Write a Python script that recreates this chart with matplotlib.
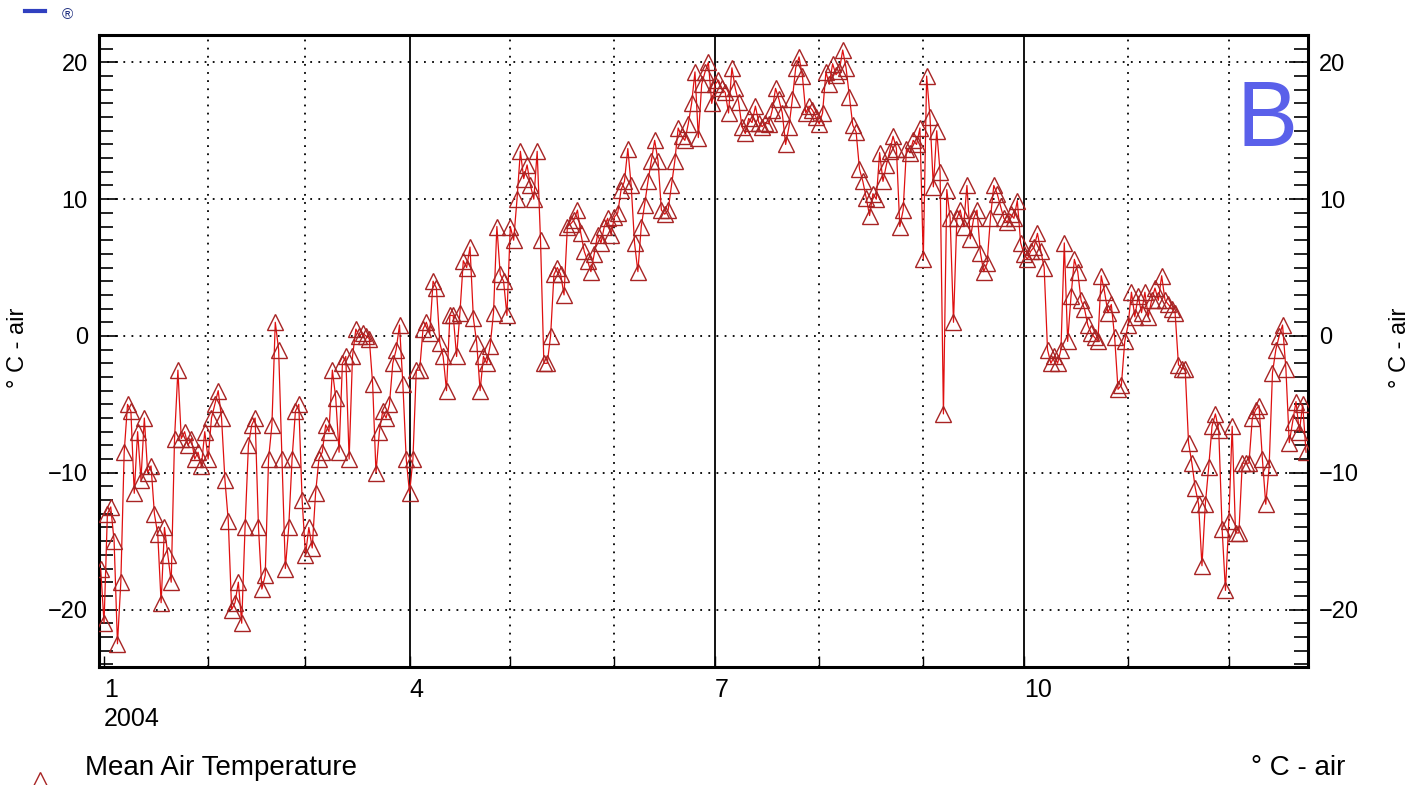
import matplotlib
matplotlib.use('Agg')
import matplotlib.pyplot as plt
from matplotlib.ticker import MultipleLocator
from matplotlib.lines import Line2D
import pandas as pd

plt.rcParams['font.family'] = ['Liberation Sans', 'DejaVu Sans']

# ---- data (daily mean air temperature, deg C) ----
start_date = '2003-12-31'
temp_dec03 = [-17]
temp_jan = [-21, -13, -12.5, -15, -22.5, -18, -8.5, -5, -5.5, -11.5, -7, -10.5, -6, -10, -9.5,
            -13, -14.5, -19.5, -14, -16, -18, -7.5, -2.5, -7.5, -7, -8, -7.5, -9, -8.5, -9.5, -7]
temp_feb = [-9, -6, -5, -4, -6, -10.5, -13.5, -20, -19.5, -18, -21, -14, -8, -6.5, -6,
            -14, -18.5, -17.5, -9, -6.5, 1, -1, -9, -17, -14, -9, -5.5, -5, -12]
temp_mar = [-16, -14, -15.5, -11.5, -9, -8.5, -6.5, -7, -2.5, -4.5, -8.5, -2, -1.5, -9, -1.5,
            0.5, 0, 0.2, 0, -0.2, -3.5, -10, -7, -5.5, -6, -5, -2, -1, 0.8, -3.5, -9]
temp_apr = [-11.5, -9, -2.5, -2.5, 0.5, 1, 0.2, 4, 3.5, -0.5, -1.5, -4, 1.5, 1.5, -1.5,
            1.7, 5.5, 5, 6.5, 1.3, -0.5, -4, -1.5, -2, -0.7, 1.7, 8, 4.5, 4, 1.5]
temp_may = [8, 7, 10, 13.5, 11.5, 12.5, 11, 10, 13.5, 7, -2, -2, 0, 4.5, 5, 4.5,
            3, 8, 8.2, 8.5, 9.2, 7.5, 6.2, 5.5, 4.7, 6, 7.4, 6.8, 8, 8.6, 7.4]
temp_jun = [8.7, 9, 10.7, 11.3, 13.7, 11, 6.8, 4.7, 8, 9.6, 11.3, 12.8, 14.3, 12.8, 9.2,
            8.9, 9.2, 11, 12.8, 15.2, 14.6, 14.3, 15.5, 17, 19.3, 14.5, 18.4, 19.3, 20, 17]
temp_jul = [18.4, 18.7, 18.1, 17.8, 16.3, 19.6, 18.1, 17.1, 15.3, 14.8, 15.9, 15.6, 16.8, 15.6, 15.3,
            15.6, 15.5, 16.5, 18.1, 17.3, 16.3, 14, 15.3, 17.3, 19.6, 20.4, 19, 16.3, 16.8, 16.5, 16]
temp_aug = [15.5, 16.3, 19.3, 18.4, 19.9, 19.1, 19.4, 20.9, 19.6, 17.5, 15.4, 14.9, 12.2, 11.3, 10.1,
            8.8, 10.4, 10, 13.4, 11.3, 12.5, 13.5, 14.6, 13.7, 8, 9.2, 13.7, 13.4, 14.3, 14, 15.2]
temp_sep = [5.6, 19, 16, 10.9, 15, 12, -5.7, 10.7, 8.6, 1, 8.6, 9.2, 8, 11, 7.1,
            8.6, 9.2, 6.1, 4.7, 5.3, 8.6, 11, 10.4, 9.5, 8.6, 8.3, 8.9, 8.6, 9.9, 6.8]
temp_oct = [6, 5.6, 6.2, 6.5, 7.5, 6.2, 5, -1, -2, -1.5, -2, -1, 6.8, -0.4, 2.9, 5.6,
            4.7, 2.6, 2, 0.8, 0.2, -0.1, -0.4, 4.4, 3.2, 1.7, 2.3, -0.1, -3.9, -3.6, -0.4]
temp_nov = [0.8, 3.2, 1.4, 2.9, 1.7, 3.2, 1.4, 2.6, 3.5, 2.6, 4.4, 2.6, 2.3, 2, 1.7,
            -2.1, -2.4, -2.4, -7.8, -9.3, -11.1, -12.3, -16.8, -12.3, -9.6, -6.6, -5.7, -6.9, -14.1, -18.6]
temp_dec = [-13.5, -6.6, -14.4, -14.4, -9.3, -9.3, -9.3, -6, -5.4, -5.1, -9, -12.3,
            -9.6, -2.7, -1, 0, 0.8, -2.4, -7.8, -6.3, -4.8, -7, -5, -8.5]

temps = (temp_dec03 + temp_jan + temp_feb + temp_mar + temp_apr + temp_may + temp_jun +
         temp_jul + temp_aug + temp_sep + temp_oct + temp_nov + temp_dec)
dates = pd.date_range(start_date, periods=len(temps), freq='D')

month_starts = pd.date_range('2004-01-01', '2004-12-01', freq='MS')
month_labels = ['1\n2004', '', '', '4', '', '', '7', '', '', '10', '', '']
solid_months = [4, 7, 10]
y_ticks = [-20, -10, 0, 10, 20]
y_label = '° C - air'
series_name = 'Mean Air Temperature'

# ---- figure ----
W, H = 1424, 785
fig = plt.figure(figsize=(W / 100, H / 100), dpi=100)
ax = fig.add_axes([99 / W, 118 / H, 1209 / W, 632 / H])

x0 = pd.Timestamp('2004-01-01') - pd.Timedelta(hours=36)
x1 = pd.Timestamp('2004-12-24') + pd.Timedelta(hours=14)
ax.set_xlim(x0, x1)
ax.set_ylim(-24.2, 22.0)

dot = (0, (1, 3.5))
for m in month_starts[1:]:
    if m.month in solid_months:
        ax.axvline(m, color='black', lw=1.3, zorder=1)
    else:
        ax.axvline(m, color='black', lw=1.3, ls=dot, zorder=1)
for yv in y_ticks:
    ax.axhline(yv, color='black', lw=1.3, ls=dot, zorder=1)

ax.plot(dates, temps, color='#e01010', lw=0.9, marker='^', ms=11,
        mfc='none', mec='#a82424', mew=1.0, zorder=3)

ax.set_xticks(month_starts)
ax.set_xticklabels(month_labels, fontsize=18, ha='left', linespacing=1.25)
ax.tick_params(axis='x', direction='in', length=8, width=1, pad=8, bottom=True, top=False)

ax.set_yticks(y_ticks)
ax.yaxis.set_minor_locator(MultipleLocator(1))
ax.tick_params(axis='y', which='major', direction='in', length=14, width=1.2,
               left=True, right=True, labelleft=True, labelright=True, labelsize=17, pad=8)
ax.tick_params(axis='y', which='minor', direction='in', length=10, width=1.2,
               left=True, right=True)
for s in ax.spines.values():
    s.set_linewidth(2.2)

# axis titles
fig.text(18 / W, 1 - 348 / H, y_label, rotation=90, ha='center', va='center', fontsize=17)
fig.text(1400 / W, 1 - 348 / H, y_label, rotation=90, ha='center', va='center', fontsize=17)

# panel letter
ax.text(0.966, 0.93, 'B', transform=ax.transAxes, ha='center', va='top',
        fontsize=66, color='#5a60ea')

# bottom legend
fig.add_artist(Line2D([40 / W], [1 - 779 / H], marker='^', ms=10, mfc='none',
                      mec='#a82424', mew=1.0, ls='none', transform=fig.transFigure))
fig.text(85 / W, 1 - 768 / H, series_name, ha='left', va='center', fontsize=20)
fig.text(1345 / W, 1 - 768 / H, y_label, ha='right', va='center', fontsize=20)

# cut-off logo at top-left
fig.add_artist(Line2D([25 / W, 45 / W], [1 - 11 / H, 1 - 11 / H], color='#3040c0', lw=3,
                      transform=fig.transFigure))
fig.text(67 / W, 1 - 15 / H, '®', ha='center', va='center', fontsize=11, color='#203080')

fig.savefig('out.png', dpi=100)
